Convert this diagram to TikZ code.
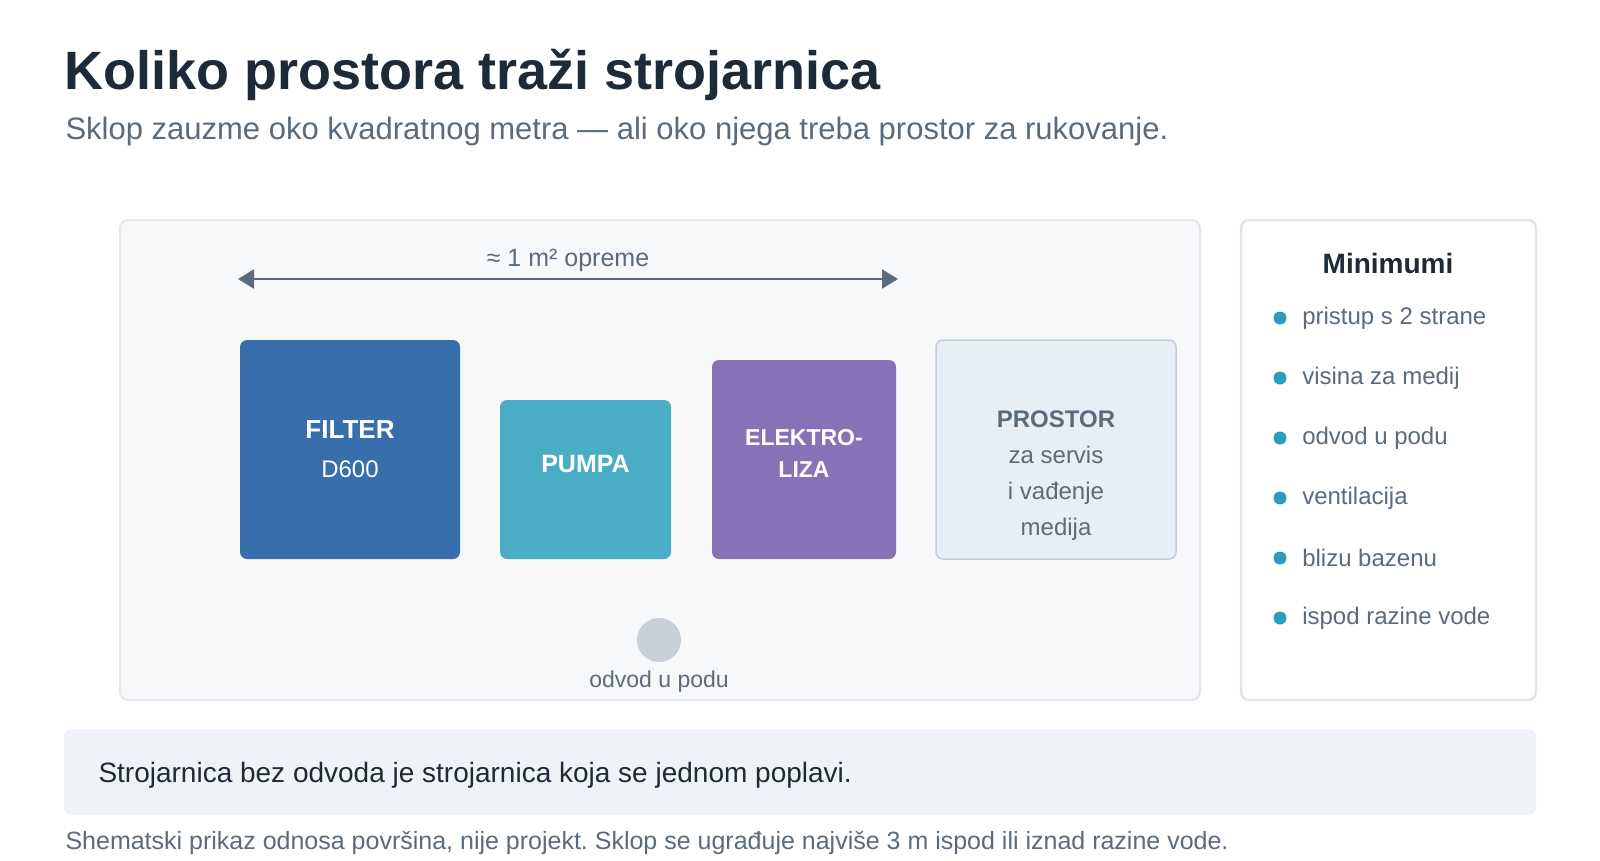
\documentclass[tikz,border=0pt]{standalone}
\usepackage{fontspec}
\setmainfont{Liberation Sans}
\usepackage{tikz}
\usetikzlibrary{positioning,arrows.meta}
\frenchspacing

\definecolor{ink}{HTML}{1E2A38}
\definecolor{slate}{HTML}{5B6B7C}
\definecolor{panelbg}{HTML}{F7F8FA}
\definecolor{panelline}{HTML}{E2E6EB}
\definecolor{filterblue}{HTML}{386EAB}
\definecolor{pumpteal}{HTML}{4AADC6}
\definecolor{elpurple}{HTML}{8872B7}
\definecolor{spacefill}{HTML}{E7EEF6}
\definecolor{spaceline}{HTML}{C3CCD8}
\definecolor{draingray}{HTML}{C9CFD7}
\definecolor{dotteal}{HTML}{2A9DBA}
\definecolor{notebg}{HTML}{EFF3F7}

\newcommand{\fsz}[1]{\fontsize{#1}{#1}\selectfont}

\tikzset{
  panel/.style={draw=panelline, line width=2pt, rounded corners=8pt},
  unit/.style={rounded corners=7pt, inner sep=0pt},
  unitlabel/.style={text=white, font=\fsz{25}\bfseries, align=center},
  sidetext/.style={text=slate, font=\fsz{24}, anchor=west},
  dot/.style={circle, fill=dotteal, inner sep=0pt, minimum size=13pt}
}

\begin{document}
\begin{tikzpicture}[x=1pt, y=-1pt]
  \useasboundingbox (0,0) rectangle (1600,860);

  % Heading
  \node[anchor=base west, text=ink, font=\fsz{54}\bfseries] (title) at (61,89) {Koliko prostora traži strojarnica};
  \node[anchor=base west, text=slate, font=\fsz{31}] (subtitle) at (62,139) {Sklop zauzme oko kvadratnog metra — ali oko njega treba prostor za rukovanje.};

  % Panels
  \draw[panel, fill=panelbg] (120,220) rectangle (1200,700);
  \draw[panel, line width=2.5pt, fill=white] (1241,220) rectangle (1536,700);

  % Span arrow
  \coordinate (spanL) at (238,279);
  \coordinate (spanR) at (898,279);
  \draw[slate, line width=2.5pt, {Triangle[length=16pt,width=19pt]}-{Triangle[length=16pt,width=19pt]}] (spanL) -- (spanR);
  \node[text=slate, font=\fsz{25}] (span) at (568,260) {≈ 1 m² opreme};

  % Equipment
  \node[unit, fill=filterblue, minimum width=220pt, minimum height=219pt] (filter) at (350,449.5) {};
  \node[unit, fill=pumpteal, minimum width=171pt, minimum height=159pt] (pump) at (585.5,479.5) {};
  \node[unit, fill=elpurple, minimum width=184pt, minimum height=199pt] (electro) at (804,459.5) {};
  \node[unit, draw=spaceline, line width=1.5pt, fill=spacefill, minimum width=240pt, minimum height=219pt] (space) at (1056,449.5) {};

  \node[unitlabel, font=\fsz{26}\bfseries] (filterlbl) at (350,449) {FILTER\\[13pt]{\fsz{24}\mdseries D600}};
  \node[unitlabel] (pumplbl) at (585.5,464) {PUMPA};
  \node[unitlabel, font=\fsz{23}\bfseries] (electrolbl) at (804,453) {ELEKTRO-\\[9pt]LIZA};
  \node[text=slate, font=\fsz{24}, align=center] (spacelbl) at (1056,476) {{\bfseries PROSTOR}\\[12pt]za servis\\[12pt]i vađenje\\[12pt]medija};

  % Drain
  \node[circle, fill=draingray, minimum size=44pt, inner sep=0pt] (drain) at (659,640) {};
  \node[text=slate, font=\fsz{23}, below=5pt of drain] (drainlbl) {odvod u podu};

  % Minimums list
  \node[text=ink, font=\fsz{28}\bfseries] (mintitle) at (1388,263) {Minimumi};
  \foreach \txt [count=\i] in {pristup s 2 strane, visina za medij, odvod u podu, ventilacija, blizu bazenu, ispod razine vode} {
    \node[dot] (dot\i) at (1280,258+60*\i) {};
    \node[sidetext, right=12pt of dot\i] (req\i) {\txt};
  }

  % Note and footer
  \node[fill=notebg, rounded corners=8pt, minimum width=1472pt, minimum height=86pt] (note) at (800,772) {};
  \node[anchor=west, text=ink, font=\fsz{28}] (notetext) at (95,775) {Strojarnica bez odvoda je strojarnica koja se jednom poplavi.};
  \node[anchor=base west, text=slate, font=\fsz{25}] (footer) at (62,849) {Shematski prikaz odnosa površina, nije projekt. Sklop se ugrađuje najviše 3 m ispod ili iznad razine vode.};
\end{tikzpicture}
\end{document}
